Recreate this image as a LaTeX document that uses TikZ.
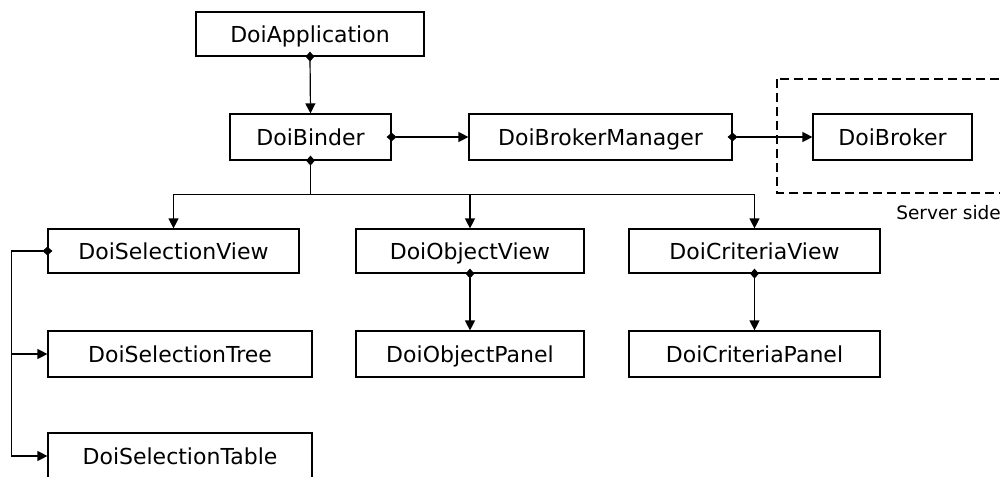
\documentclass[tikz,border=0pt]{standalone}
\usepackage{fontspec}
\setmainfont{DejaVu Sans}
\usetikzlibrary{arrows.meta}
\begin{document}
\begin{tikzpicture}[x=0.75pt,y=-0.75pt,
  box/.style={draw, line width=0.9pt, inner sep=0pt, text height=12pt, text depth=0pt, font=\fontsize{16.5}{18}\selectfont},
  conn/.style={line width=0.9pt, -{Triangle[length=7.5pt,width=7.5pt]}},
  dconn/.style={line width=0.9pt, {Diamond[length=7.5pt,width=6.5pt]}-{Triangle[length=7.5pt,width=7.5pt]}, shorten <=-3.75pt},
  dline/.style={line width=0.9pt, {Diamond[length=7.5pt,width=6.5pt]}-, shorten <=-3.75pt},
  zone/.style={line width=0.9pt, dash pattern=on 6.75pt off 3.75pt},
  note/.style={font=\fontsize{13.9}{16}\selectfont, inner sep=0pt, anchor=west}]
\useasboundingbox (0,0) rectangle (1000,476);

% server-side zone
\draw[zone] (777,79) rectangle (1012,193);
\node[note] (srv) at (896,213) {Server side};

% boxes
\node[box, minimum width={228*0.75pt}, minimum height={44*0.75pt}] (app) at (310,34) {DoiApplication};
\node[box, minimum width={161*0.75pt}, minimum height={46*0.75pt}] (binder) at (310.5,137) {DoiBinder};
\node[box, minimum width={263*0.75pt}, minimum height={46*0.75pt}] (bm) at (600.5,137) {DoiBrokerManager};
\node[box, minimum width={159*0.75pt}, minimum height={46*0.75pt}] (broker) at (892.5,137) {DoiBroker};
\node[box, minimum width={251*0.75pt}, minimum height={44*0.75pt}] (sv) at (173.5,251) {DoiSelectionView};
\node[box, minimum width={228*0.75pt}, minimum height={44*0.75pt}] (ov) at (470,251) {DoiObjectView};
\node[box, minimum width={251*0.75pt}, minimum height={44*0.75pt}] (cv) at (754.5,251) {DoiCriteriaView};
\node[box, minimum width={264*0.75pt}, minimum height={46*0.75pt}] (tree) at (180,354) {DoiSelectionTree};
\node[box, minimum width={228*0.75pt}, minimum height={46*0.75pt}] (op) at (470,354) {DoiObjectPanel};
\node[box, minimum width={251*0.75pt}, minimum height={46*0.75pt}] (cp) at (754.5,354) {DoiCriteriaPanel};
\node[box, minimum width={264*0.75pt}, minimum height={46*0.75pt}] (table) at (180,456) {DoiSelectionTable};

% connectors
\draw[dconn] (app.south) -- (binder.north);
\draw[dconn] (binder.east) -- (bm.west);
\draw[dconn] (bm.east) -- (broker.west);
\draw[dline] (binder.south) -- ++(0,34) coordinate (bus);
\draw[conn] (bus) -| (sv.north);
\draw[conn] (bus) -| (cv.north);
\draw[conn] (ov.north |- bus) -- (ov.north);
\draw[dconn] (ov.south) -- (op.north);
\draw[dconn] (cv.south) -- (cp.north);
\draw[dconn] (sv.west) -- ++(-36,0) coordinate (L) |- (table.west);
\draw[conn] (L |- tree.west) -- (tree.west);
\end{tikzpicture}
\end{document}
